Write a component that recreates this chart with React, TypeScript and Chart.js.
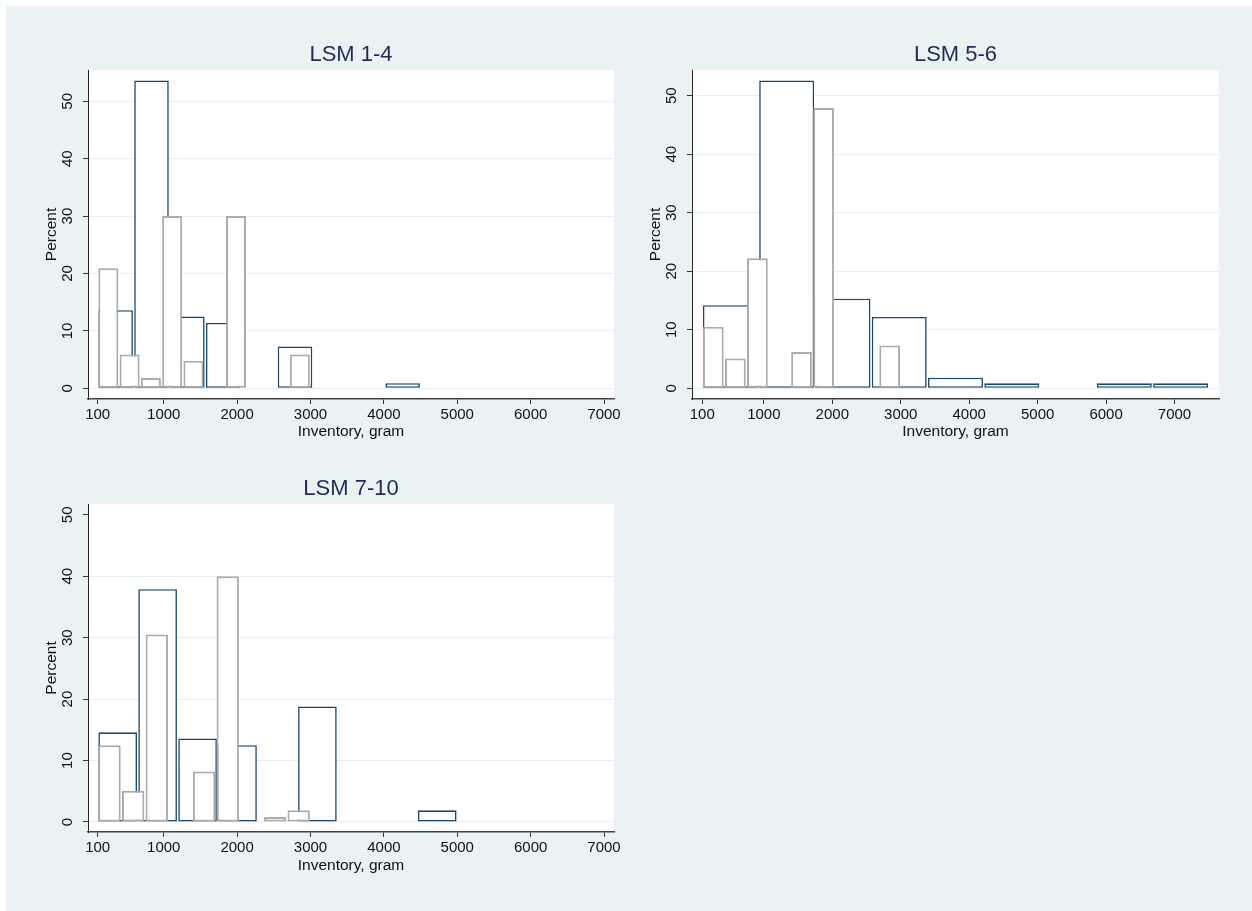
import React, { useEffect, useRef } from 'react';
import { Chart, registerables } from 'chart.js';

Chart.register(...registerables);

// ---------------- data ----------------
const X_TICKS = [100, 1000, 2000, 3000, 4000, 5000, 6000, 7000];
const Y_TICKS = [0, 10, 20, 30, 40, 50];
const PANEL_TITLES = ['LSM 1-4', 'LSM 5-6', 'LSM 7-10'];
const X_TITLE = 'Inventory, gram';
const Y_TITLE = 'Percent';

// bin ranges [first edge, last edge] and percent per bin
const LSM14_NAVY_RANGE = [100, 4500];
const LSM14_NAVY = [13.6, 53.6, 12.5, 11.4, 0, 7.3, 0, 0, 0.9];
const LSM14_GRAY_RANGE = [100, 3000];
const LSM14_GRAY = [20.9, 5.9, 1.8, 30.0, 4.8, 0, 30.0, 0, 0, 5.9];

const LSM56_NAVY_RANGE = [100, 7500];
const LSM56_NAVY = [14.2, 52.6, 15.3, 12.2, 1.8, 0.85, 0, 0.85, 0.85];
const LSM56_GRAY_RANGE = [100, 3000];
const LSM56_GRAY = [10.5, 5.1, 22.2, 0, 6.2, 47.9, 0, 0, 7.3];

const LSM710_NAVY_RANGE = [100, 5000];
const LSM710_NAVY = [14.6, 37.9, 13.6, 12.5, 0, 18.8, 0, 0, 1.9];
const LSM710_GRAY_RANGE = [100, 3000];
const LSM710_GRAY = [12.5, 5.1, 30.5, 0, 8.2, 40.0, 0, 0.8, 1.9];

// axis limits per panel
const P1_X = [-32, 7136];
const P1_Y = [-1.86, 55.45];
const P2_X = [-50, 7650];
const P2_Y = [-1.83, 54.38];
const P3_X = [-32, 7136];
const P3_Y = [-1.63, 51.76];

// ---------------- style ----------------
const FONT = '"Liberation Sans", Arial, Helvetica, sans-serif';
const NAVY = '#1a476f';
const GRAY = '#ababab';
const BG = '#eaf2f3';
const GRID = '#e6eef0';
const TITLE_COLOR = '#1e2c55';

const CANVAS_W = 626;
const CANVAS_H = 444;
const Y_AXIS_W = 82;
const PAD_TOP = 64;
const PAD_RIGHT = 18;

function makeBins(range: number[], values: number[]) {
  const n = values.length;
  const w = (range[1] - range[0]) / n;
  return {
    w,
    data: values.map((v, i) => ({ x: range[0] + (i + 0.5) * w, y: v === 0 ? null : v })),
  };
}

const panelPlugin = {
  id: 'panelDeco',
  beforeDraw(chart: any) {
    const { ctx, chartArea } = chart;
    ctx.save();
    ctx.fillStyle = '#ffffff';
    ctx.fillRect(chartArea.left, chartArea.top, chartArea.right - chartArea.left, chartArea.bottom - chartArea.top);
    ctx.restore();
  },
  afterDraw(chart: any, _args: any, opts: any) {
    const { ctx, chartArea } = chart;
    ctx.save();
    ctx.font = `22px ${FONT}`;
    ctx.fillStyle = TITLE_COLOR;
    ctx.textAlign = 'center';
    ctx.textBaseline = 'alphabetic';
    ctx.fillText(opts.text, (chartArea.left + chartArea.right) / 2, chartArea.top - 9);
    ctx.restore();
  },
};

type PanelCfg = {
  title: string;
  navyRange: number[];
  navy: number[];
  grayRange: number[];
  gray: number[];
  xr: number[];
  yr: number[];
  hideTopGrid: boolean;
  xAxisH: number;
};

function Panel({ cfg, left, top, width }: { cfg: PanelCfg; left: number; top: number; width: number }) {
  const ref = useRef<HTMLCanvasElement>(null);
  useEffect(() => {
    if (!ref.current) return;
    const areaW = width - Y_AXIS_W - PAD_RIGHT;
    const pxPerUnit = areaW / (cfg.xr[1] - cfg.xr[0]);
    const navy = makeBins(cfg.navyRange, cfg.navy);
    const gray = makeBins(cfg.grayRange, cfg.gray);
    const pct = (w: number) => 1 - 1.3 / (w * pxPerUnit);
    const tickFont = { family: FONT, size: 15 };
    const titleFont = { family: FONT, size: 15.5 };
    const setXTicks = (s: any) => {
      s.ticks = X_TICKS.map((v) => ({ value: v }));
    };
    const chart = new Chart(ref.current, {
      type: 'bar',
      data: {
        datasets: [
          {
            label: 'navy',
            data: navy.data as any,
            xAxisID: 'x',
            yAxisID: 'y',
            backgroundColor: '#ffffff',
            borderColor: NAVY,
            borderWidth: 1.6,
            borderSkipped: false,
            grouped: false,
            categoryPercentage: 1,
            barPercentage: pct(navy.w),
            order: 2,
          },
          {
            label: 'gray',
            data: gray.data as any,
            xAxisID: 'x2',
            yAxisID: 'y',
            backgroundColor: '#ffffff',
            borderColor: GRAY,
            borderWidth: 2,
            borderSkipped: false,
            grouped: false,
            categoryPercentage: 1,
            barPercentage: pct(gray.w),
            order: 1,
          },
        ],
      },
      options: {
        animation: false,
        responsive: false,
        devicePixelRatio: 1,
        events: [],
        layout: { padding: { top: PAD_TOP, right: PAD_RIGHT, left: 0, bottom: 0 } },
        plugins: {
          legend: { display: false },
          tooltip: { enabled: false },
          title: { display: false },
          panelDeco: { text: cfg.title },
        } as any,
        scales: {
          x: {
            type: 'linear',
            position: 'bottom',
            min: cfg.xr[0],
            max: cfg.xr[1],
            offset: false,
            afterBuildTicks: setXTicks,
            afterFit: (s: any) => {
              s.height = cfg.xAxisH;
            },
            grid: {
              display: true,
              drawOnChartArea: false,
              drawTicks: true,
              tickLength: 5,
              tickColor: '#333333',
              offset: false,
            },
            border: { display: true, color: '#444444', width: 1.5 },
            ticks: {
              font: tickFont,
              color: '#111111',
              padding: 2,
              maxRotation: 0,
              minRotation: 0,
              autoSkip: false,
              callback: (v: any) => String(v),
            },
            title: {
              display: true,
              text: X_TITLE,
              font: titleFont,
              color: '#111111',
              padding: { top: 0, bottom: 8.8 },
            },
          },
          x2: {
            type: 'linear',
            position: 'bottom',
            display: false,
            min: cfg.xr[0],
            max: cfg.xr[1],
            offset: false,
            afterBuildTicks: setXTicks,
          },
          y: {
            type: 'linear',
            position: 'left',
            min: cfg.yr[0],
            max: cfg.yr[1],
            afterBuildTicks: (s: any) => {
              s.ticks = Y_TICKS.map((v) => ({ value: v }));
            },
            afterFit: (s: any) => {
              s.width = Y_AXIS_W;
            },
            grid: {
              color: (c: any) =>
                cfg.hideTopGrid && c.tick && c.tick.value === Y_TICKS[Y_TICKS.length - 1] ? 'rgba(0,0,0,0)' : GRID,
              lineWidth: 1,
              drawTicks: true,
              tickLength: 5,
              tickColor: '#333333',
            },
            border: { display: true, color: '#222222', width: 1 },
            ticks: {
              font: tickFont,
              color: '#111111',
              padding: 6.5,
              minRotation: 90,
              maxRotation: 90,
              crossAlign: 'center',
              autoSkip: false,
              callback: (v: any) => String(v),
            },
            title: {
              display: true,
              text: Y_TITLE,
              font: titleFont,
              color: '#111111',
              padding: { top: 36, bottom: 0 },
            },
          },
        } as any,
      },
      plugins: [panelPlugin as any],
    });
    return () => chart.destroy();
  }, []);
  return (
    <canvas
      ref={ref}
      width={width}
      height={CANVAS_H}
      style={{ position: 'absolute', left, top, width, height: CANVAS_H, display: 'block' }}
    />
  );
}

const PANELS: PanelCfg[] = [
  {
    title: PANEL_TITLES[0],
    navyRange: LSM14_NAVY_RANGE,
    navy: LSM14_NAVY,
    grayRange: LSM14_GRAY_RANGE,
    gray: LSM14_GRAY,
    xr: P1_X,
    yr: P1_Y,
    hideTopGrid: false,
    xAxisH: 51,
  },
  {
    title: PANEL_TITLES[1],
    navyRange: LSM56_NAVY_RANGE,
    navy: LSM56_NAVY,
    grayRange: LSM56_GRAY_RANGE,
    gray: LSM56_GRAY,
    xr: P2_X,
    yr: P2_Y,
    hideTopGrid: false,
    xAxisH: 51,
  },
  {
    title: PANEL_TITLES[2],
    navyRange: LSM710_NAVY_RANGE,
    navy: LSM710_NAVY,
    grayRange: LSM710_GRAY_RANGE,
    gray: LSM710_GRAY,
    xr: P3_X,
    yr: P3_Y,
    hideTopGrid: true,
    xAxisH: 52,
  },
];

export default function App() {
  return (
    <div
      style={{
        position: 'fixed',
        left: 6,
        top: 6,
        right: 0,
        bottom: 0,
        background: BG,
        overflow: 'hidden',
      }}
    >
      <Panel cfg={PANELS[0]} left={0} top={0} width={CANVAS_W} />
      <Panel cfg={PANELS[1]} left={604} top={0} width={CANVAS_W + 1} />
      <Panel cfg={PANELS[2]} left={0} top={434} width={CANVAS_W} />
    </div>
  );
}
